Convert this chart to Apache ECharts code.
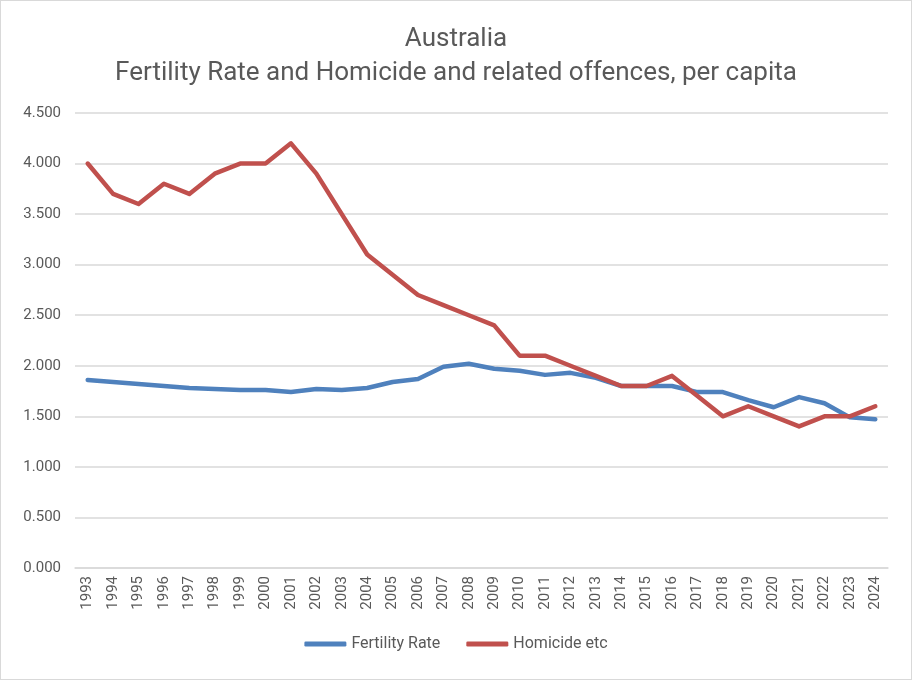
<!DOCTYPE html>
<html lang="en">
<head>
    <meta charset="UTF-8">
    <title>Australia</title>
    <script src="https://cdn.jsdelivr.net/npm/echarts@6/dist/echarts.min.js"></script>
    <style>
        html, body { margin: 0; padding: 0; background: #fff; }
        #main { width: 910px; height: 678px; border: 1px solid #d9d9d9; }
    </style>
</head>
<body>
    <div id="main"></div>
    <script type="text/javascript">
        // 年份
        var years = ['1993','1994','1995','1996','1997','1998','1999','2000','2001','2002',
            '2003','2004','2005','2006','2007','2008','2009','2010','2011','2012',
            '2013','2014','2015','2016','2017','2018','2019','2020','2021','2022','2023','2024'];
        // Fertility Rate
        var fertility = [1.86,1.84,1.82,1.80,1.78,1.77,1.76,1.76,1.74,1.77,
            1.76,1.78,1.84,1.87,1.99,2.02,1.97,1.95,1.91,1.93,
            1.88,1.80,1.80,1.80,1.74,1.74,1.66,1.59,1.69,1.63,1.49,1.47];
        // Homicide and related offences, per capita
        var homicide = [4.0,3.7,3.6,3.8,3.7,3.9,4.0,4.0,4.2,3.9,
            3.5,3.1,2.9,2.7,2.6,2.5,2.4,2.1,2.1,2.0,
            1.9,1.8,1.8,1.9,1.7,1.5,1.6,1.5,1.4,1.5,1.5,1.6];

        var myChart = echarts.init(document.getElementById('main'));
        var font = 'Roboto, "Liberation Sans", sans-serif';

        var option = {
            backgroundColor: '#fff',
            animation: false,
            title: {
                text: 'Australia\nFertility Rate and Homicide and related offences, per capita',
                left: 'center',
                top: 16,
                textStyle: {
                    fontFamily: font,
                    fontSize: 26,
                    fontWeight: 'normal',
                    color: '#595959',
                    lineHeight: 34
                }
            },
            legend: {
                bottom: 22,
                left: 'center',
                itemWidth: 42,
                itemHeight: 5,
                itemGap: 26,
                icon: 'roundRect',
                textStyle: { fontFamily: font, fontSize: 16, color: '#595959' },
                data: ['Fertility Rate', 'Homicide etc']
            },
            grid: { left: 74, right: 23, top: 112, bottom: 111 },
            xAxis: {
                type: 'category',
                data: years,
                boundaryGap: true,
                axisLine: { lineStyle: { color: '#d9d9d9', width: 1.5 } },
                axisTick: { show: false },
                axisLabel: {
                    rotate: 90,
                    fontFamily: font,
                    fontSize: 15,
                    color: '#595959',
                    margin: 8
                }
            },
            yAxis: {
                type: 'value',
                min: 0,
                max: 4.5,
                interval: 0.5,
                axisLine: { show: false },
                axisTick: { show: false },
                splitLine: { lineStyle: { color: '#d9d9d9', width: 1.5 } },
                axisLabel: {
                    fontFamily: font,
                    fontSize: 15,
                    color: '#595959',
                    margin: 14,
                    formatter: function (v) { return v.toFixed(3); }
                }
            },
            series: [
                {
                    name: 'Fertility Rate',
                    type: 'line',
                    data: fertility,
                    symbol: 'none',
                    itemStyle: { color: '#4f81bd' },
                    lineStyle: { color: '#4f81bd', width: 4.5, cap: 'round', join: 'round' }
                },
                {
                    name: 'Homicide etc',
                    type: 'line',
                    data: homicide,
                    symbol: 'none',
                    itemStyle: { color: '#c0504d' },
                    lineStyle: { color: '#c0504d', width: 4.5, cap: 'round', join: 'round' }
                }
            ]
        };
        myChart.setOption(option);
        window.addEventListener("resize", function () {
            myChart.resize();
        });
    </script>
</body>
</html>
